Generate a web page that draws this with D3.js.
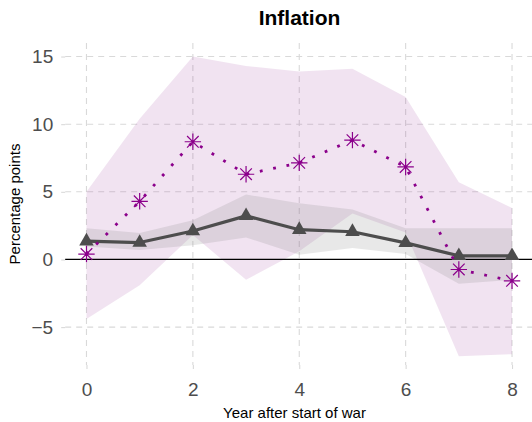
<!DOCTYPE html>
<html>
<head>
<meta charset="utf-8">
<script src="https://cdn.jsdelivr.net/npm/d3@7/dist/d3.min.js"></script>
<style>
  html, body { margin: 0; padding: 0; background: #ffffff; }
  svg { display: block; font-family: "Liberation Sans", Arial, Helvetica, sans-serif; }
</style>
</head>
<body>
<svg id="chart" width="532" height="422"></svg>
<script>
// Years after the start of the war
const years = [0, 1, 2, 3, 4, 5, 6, 7, 8];

// Baseline response (grey line, triangles) with its confidence band
const baseEst = [1.35, 1.25, 2.1, 3.22, 2.2, 2.05, 1.23, 0.27, 0.27];
const baseLo  = [0.95, 0.7, 1.05, 1.63, 0.35, 0.85, 0.4, -1.8, -1.5];
const baseHi  = [2.3, 1.95, 2.9, 4.8, 4.15, 3.7, 2.3, 2.3, 2.3];

// Alternative response (purple dotted line, asterisks) with its confidence band
const altEst = [0.4, 4.3, 8.7, 6.3, 7.14, 8.82, 6.84, -0.74, -1.58];
const altLo  = [-4.4, -1.9, 1.8, -1.5, 0.6, 3.4, 2.0, -7.15, -7.0];
const altHi  = [5.0, 10.4, 15.0, 14.3, 13.9, 14.1, 12.0, 5.7, 3.8];

const xTicks = [0, 2, 4, 6, 8];
const yTicks = [-5, 0, 5, 10, 15];

const svg = d3.select("#chart");
const panel = { left: 65.2, right: 533.3, top: 43, bottom: 365 };

const x = d3.scaleLinear().domain([-0.4, 8.4]).range([panel.left, panel.right]);
const y = d3.scaleLinear().domain([-7.8, 16.0]).range([panel.bottom, panel.top]);

const purple = "#8b008b";
const dark = "#4d4d4d";

// Grid
const grid = svg.append("g");
grid.selectAll("line.h").data(yTicks).join("line")
  .attr("x1", panel.left).attr("x2", panel.right)
  .attr("y1", d => y(d)).attr("y2", d => y(d))
  .attr("stroke", "#d9d9d9").attr("stroke-width", 1.1)
  .attr("stroke-dasharray", "6,5");
grid.selectAll("line.v").data(xTicks).join("line")
  .attr("y1", panel.top).attr("y2", panel.bottom)
  .attr("x1", d => x(d)).attr("x2", d => x(d))
  .attr("stroke", "#d9d9d9").attr("stroke-width", 1.1)
  .attr("stroke-dasharray", "6,5");

// Axes (ticks and labels)
const xAxis = d3.axisBottom(x).tickValues(xTicks).tickSize(4).tickPadding(14)
  .tickFormat(d3.format("d"));
const gx = svg.append("g").attr("transform", `translate(0,${panel.bottom})`).call(xAxis);
gx.select(".domain").remove();
gx.selectAll(".tick line").attr("stroke", "#d9d9d9").attr("stroke-width", 1.1);
gx.selectAll(".tick text").attr("fill", dark).style("font-size", "19px")
  .style("font-family", "Liberation Sans, Arial, sans-serif");

const yAxis = d3.axisLeft(y).tickValues(yTicks).tickSize(4).tickPadding(8)
  .tickFormat(d => d < 0 ? "\u2212" + Math.abs(d) : String(d));
const gy = svg.append("g").attr("transform", `translate(${panel.left},0)`).call(yAxis);
gy.select(".domain").remove();
gy.selectAll(".tick line").attr("stroke", "#d9d9d9").attr("stroke-width", 1.1);
gy.selectAll(".tick text").attr("fill", dark).style("font-size", "19px")
  .style("font-family", "Liberation Sans, Arial, sans-serif");

// Confidence bands
const area = (lo, hi) => d3.area()
  .x((d, i) => x(years[i]))
  .y0((d, i) => y(lo[i]))
  .y1((d, i) => y(hi[i]))(years);

svg.append("path").attr("d", area(altLo, altHi))
  .attr("fill", "#800080").attr("fill-opacity", 0.11);
svg.append("path").attr("d", area(baseLo, baseHi))
  .attr("fill", "#7f7f7f").attr("fill-opacity", 0.18);

// Zero line
svg.append("line")
  .attr("x1", panel.left).attr("x2", panel.right)
  .attr("y1", y(0)).attr("y2", y(0))
  .attr("stroke", "#000").attr("stroke-width", 1.3);

// Baseline line with triangles
const line = vals => d3.line().x((d, i) => x(years[i])).y((d, i) => y(vals[i]))(years);

svg.append("path").attr("d", line(baseEst))
  .attr("fill", "none").attr("stroke", dark).attr("stroke-width", 3.2)
  .attr("stroke-linejoin", "round");

const tri = 8.4; // circumradius of the triangle marker
svg.selectAll("path.tri").data(years).join("path")
  .attr("d", (d, i) => {
    const cx = x(d), cy = y(baseEst[i]);
    const hw = tri * Math.sqrt(3) / 2;
    return `M${cx},${cy - tri}L${cx + hw},${cy + tri / 2}L${cx - hw},${cy + tri / 2}Z`;
  })
  .attr("fill", dark);

// Alternative dotted line with asterisks
svg.append("path").attr("d", line(altEst))
  .attr("fill", "none").attr("stroke", purple).attr("stroke-width", 2.8)
  .attr("stroke-dasharray", "2.8,10.8");

const ast = 8.2; // arm length of the plus part
svg.selectAll("path.ast").data(years).join("path")
  .attr("d", (d, i) => {
    const cx = x(d), cy = y(altEst[i]);
    const k = ast / Math.SQRT2;
    return `M${cx - ast},${cy}L${cx + ast},${cy}M${cx},${cy - ast}L${cx},${cy + ast}` +
           `M${cx - k},${cy - k}L${cx + k},${cy + k}M${cx - k},${cy + k}L${cx + k},${cy - k}`;
  })
  .attr("fill", "none").attr("stroke", purple).attr("stroke-width", 1.2);

// Titles
svg.append("text").attr("x", 299.5).attr("y", 25)
  .attr("text-anchor", "middle").style("font-size", "21px").style("font-weight", "bold")
  .attr("fill", "#000").text("Inflation");

svg.append("text").attr("x", 294.5).attr("y", 418)
  .attr("text-anchor", "middle").style("font-size", "15px")
  .attr("fill", "#000").text("Year after start of war");

svg.append("text")
  .attr("transform", `translate(20,${(panel.top + panel.bottom) / 2}) rotate(-90)`)
  .attr("text-anchor", "middle").style("font-size", "15px")
  .attr("fill", "#000").text("Percentage points");
</script>
</body>
</html>
